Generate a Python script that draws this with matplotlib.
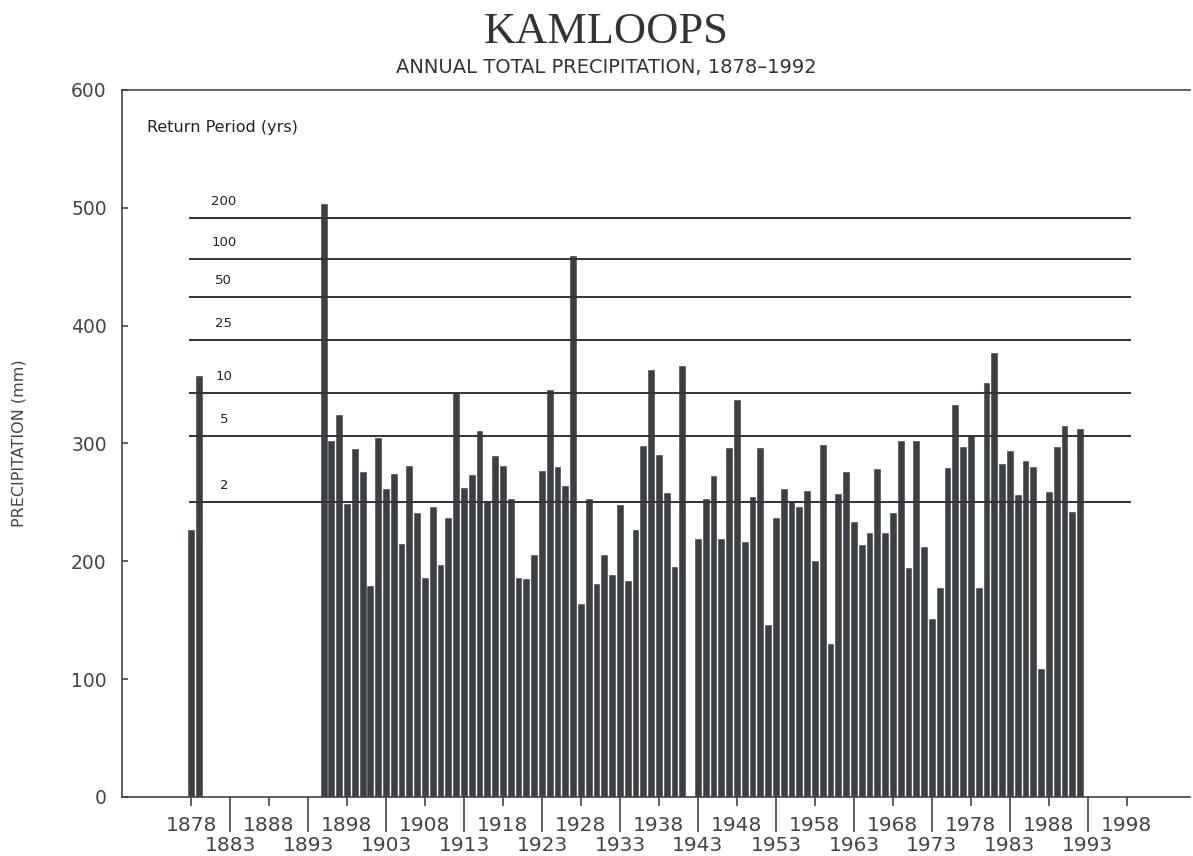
import numpy as np
import matplotlib
matplotlib.use("Agg")
import matplotlib.pyplot as plt
from matplotlib.ticker import FixedLocator, FixedFormatter

# annual totals (mm); 1880-1894 and 1942 missing
years = ([1878, 1879] + list(range(1895, 1942)) + list(range(1943, 1993)))
precip = [227, 357,
          503, 302, 324, 249, 295, 276, 179, 305, 261, 274,
          215, 281, 241, 186, 246, 197, 237, 343, 262, 273,
          311, 251, 289, 281, 253, 186, 185, 205, 277, 345,
          280, 264, 459, 164, 253, 181, 205, 188, 248, 183,
          227, 298, 362, 290, 258, 195, 366,
          219, 253, 272, 219, 296, 337, 216, 255, 296, 146,
          237, 261, 250, 246, 260, 200, 299, 130, 257, 276,
          233, 214, 224, 278, 224, 241, 302, 194, 302, 212,
          151, 177, 279, 333, 297, 306, 177, 351, 377, 283,
          294, 256, 285, 280, 109, 259, 297, 315, 242, 312]

# return period levels (mm)
rp_labels = ["200", "100", "50", "25", "10", "5", "2"]
rp_levels = [491, 457, 424, 388, 343, 306, 250]

top_years = list(range(1878, 1999, 10))
bottom_years = list(range(1883, 1999, 10))

grey = "#444444"
bar_col = "#3b4045"

fig = plt.figure(figsize=(11.93, 8.56), dpi=100)
ax = fig.add_axes([122 / 1193, 59 / 856, 1068 / 1193, 707 / 856])

ax.bar(years, precip, width=0.75, color=bar_col, edgecolor=bar_col, linewidth=0.4, zorder=2)

for lab, lev in zip(rp_labels, rp_levels):
    ax.plot([1877.9, 1998.4], [lev, lev], color="#333333", lw=1.4, zorder=3)
    ax.text(1882.2, lev + 14, lab, fontsize=9.5, color="#222222", ha="center", va="center")

ax.text(1872.4, 568, "Return Period (yrs)", fontsize=11.5, color="#222222", va="center")

ax.set_xlim(1869.15, 2006.1)
ax.set_ylim(0, 600)
ax.set_yticks(range(0, 601, 100))

ax.xaxis.set_major_locator(FixedLocator(top_years))
ax.xaxis.set_major_formatter(FixedFormatter([str(y) for y in top_years]))
ax.xaxis.set_minor_locator(FixedLocator(bottom_years))
ax.xaxis.set_minor_formatter(FixedFormatter([str(y) for y in bottom_years]))
ax.tick_params(axis="x", which="major", length=6.5, width=1.2, pad=7, labelsize=14.5, colors=grey)
ax.tick_params(axis="x", which="minor", length=25, width=1.2, pad=3, labelsize=14.5, colors=grey)
ax.tick_params(axis="y", direction="in", length=4.5, width=1.2, pad=11, labelsize=13.5, colors=grey)

for s in ["left", "bottom", "top"]:
    ax.spines[s].set_color(grey)
    ax.spines[s].set_linewidth(1.2)
ax.spines["right"].set_visible(False)

ax.set_ylabel("PRECIPITATION (mm)", fontsize=11.5, color=grey)
ax.yaxis.set_label_coords(-0.089, 0.5)

fig.text(0.5085, 0.963, "KAMLOOPS", family="Liberation Serif", fontsize=32,
         color="#333333", ha="center", va="center")
fig.text(0.5085, 0.921, "ANNUAL TOTAL PRECIPITATION, 1878\u20131992", fontsize=14,
         color="#333333", ha="center", va="center")

fig.savefig("out.png", dpi=100)
